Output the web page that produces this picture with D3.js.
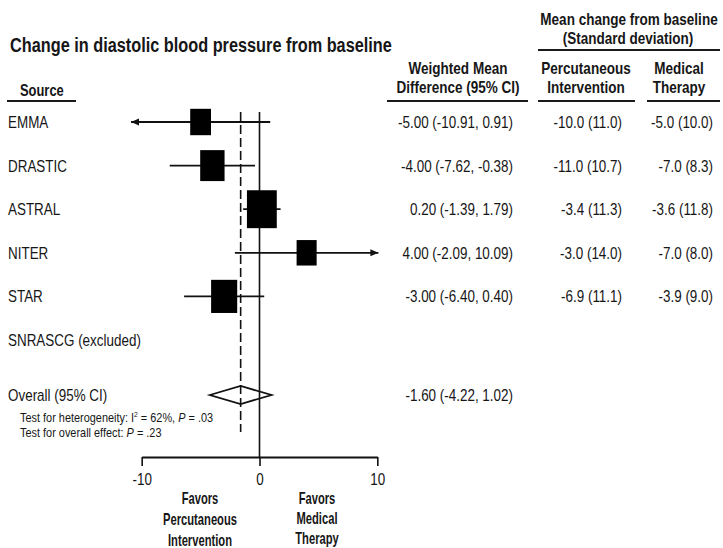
<!DOCTYPE html>
<html>
<head>
<meta charset="utf-8">
<script src="https://cdn.jsdelivr.net/npm/d3@7"></script>
<style>
  body { margin: 0; background: #fff; }
  svg { display: block; font-family: "Liberation Sans", Arial, Helvetica, sans-serif; }
  text { fill: #161616; }
</style>
</head>
<body>
<div id="chart"></div>
<script>
"use strict";

// study data
const sources = ["EMMA", "DRASTIC", "ASTRAL", "NITER", "STAR", "SNRASCG (excluded)"];
const wmd = [-5.00, -4.00, 0.20, 4.00, -3.00];
const ciLow = [-10.91, -7.62, -1.39, -2.09, -6.40];
const ciHigh = [0.91, -0.38, 1.79, 10.09, 0.40];
const weights = [14.4, 19.8, 29.7, 13.4, 22.7];

const pciMean = [-10.0, -11.0, -3.4, -3.0, -6.9];
const pciSD = [11.0, 10.7, 11.3, 14.0, 11.1];
const medMean = [-5.0, -7.0, -3.6, -7.0, -3.9];
const medSD = [10.0, 8.3, 11.8, 8.0, 9.0];

// overall: estimate, low, high
const overall = [-1.60, -4.22, 1.02];
const xTicks = [-10, 0, 10];

let width = 723;
let height = 548;

let svg = d3.select("#chart").append("svg")
  .attr("width", width)
  .attr("height", height)
  .attr("viewBox", [0, 0, width, height].join(" "));

let x = d3.scaleLinear()
  .domain([-10, 10])
  .range([141.7, 377.3]);

let y = d3.scalePoint()
  .domain(sources)
  .range([122, 340]);

let overallY = 395;
let axisY = 457;

let boxW = d3.scaleSqrt()
  .domain([0, 30])
  .range([0, 30]);
let boxAspect = 1.27;

// text helper, glyphs are narrow in the original
function label(g, px, py, str, o) {
  return g.append("text")
    .attr("transform", `translate(${px},${py}) scale(${o.sx},1)`)
    .attr("font-size", o.size)
    .attr("font-weight", o.weight || "normal")
    .attr("text-anchor", o.anchor || "start")
    .text(str);
}

let bold = { size: 16.5, weight: "bold", sx: 0.82, anchor: "middle" };
let body = { size: 16, sx: 0.84 };

// headers
label(svg, 10, 52, "Change in diastolic blood pressure from baseline", { size: 21, weight: "bold", sx: 0.776 });
label(svg, 20, 96, "Source", { size: 17, weight: "bold", sx: 0.76 });

label(svg, 629, 25, "Mean change from baseline", bold);
label(svg, 628, 44, "(Standard deviation)", bold);

label(svg, 458, 74, "Weighted Mean", bold);
label(svg, 458, 93, "Difference (95% CI)", bold);
label(svg, 586, 74, "Percutaneous", bold);
label(svg, 586, 93, "Intervention", bold);
label(svg, 679, 74, "Medical", bold);
label(svg, 679, 93, "Therapy", bold);

let rules = [
  [7, 76, 101], [387, 528, 101], [538, 635, 101], [647, 720, 101], [538, 720, 50]
];
svg.selectAll(".rule")
  .data(rules)
  .enter().append("line")
  .attr("class", "rule")
  .attr("x1", d => d[0])
  .attr("x2", d => d[1])
  .attr("y1", d => d[2])
  .attr("y2", d => d[2])
  .attr("stroke", "#1a1a1a")
  .attr("stroke-width", 2);

// row labels and table columns
sources.forEach(function(s, i) {
  let ty = y(s) + 6;
  label(svg, 8, ty, s, body);
  if (i < wmd.length) {
    label(svg, 513, ty, `${wmd[i].toFixed(2)} (${ciLow[i].toFixed(2)}, ${ciHigh[i].toFixed(2)})`, Object.assign({ anchor: "end" }, body));
    label(svg, 622, ty, `${pciMean[i].toFixed(1)} (${pciSD[i].toFixed(1)})`, Object.assign({ anchor: "end" }, body));
    label(svg, 713, ty, `${medMean[i].toFixed(1)} (${medSD[i].toFixed(1)})`, Object.assign({ anchor: "end" }, body));
  }
});

label(svg, 8, overallY + 6, "Overall (95% CI)", body);
label(svg, 513, overallY + 6, `${overall[0].toFixed(2)} (${overall[1].toFixed(2)}, ${overall[2].toFixed(2)})`, Object.assign({ anchor: "end" }, body));

// heterogeneity notes
let small = { size: 13, sx: 0.84 };
let het = label(svg, 20, 422, "", small);
het.append("tspan").text("Test for heterogeneity: I");
het.append("tspan").attr("font-size", 8).attr("dy", -5).text("2");
het.append("tspan").attr("dy", 5).text(" = 62%, ");
het.append("tspan").attr("font-style", "italic").text("P");
het.append("tspan").text(" = .03");

let eff = label(svg, 20, 437, "", small);
eff.append("tspan").text("Test for overall effect: ");
eff.append("tspan").attr("font-style", "italic").text("P");
eff.append("tspan").text(" = .23");

// reference lines
svg.append("line")
  .attr("x1", x(0)).attr("x2", x(0))
  .attr("y1", 112).attr("y2", axisY)
  .attr("stroke", "#111")
  .attr("stroke-width", 1.6);

svg.append("line")
  .attr("x1", x(overall[0])).attr("x2", x(overall[0]))
  .attr("y1", 112).attr("y2", 432)
  .attr("stroke", "#111")
  .attr("stroke-width", 1.6)
  .attr("stroke-dasharray", "9,4");

// confidence intervals
let studies = wmd.map((d, i) => ({ name: sources[i], est: d, lo: ciLow[i], hi: ciHigh[i], w: weights[i] }));

let rows = svg.selectAll(".study")
  .data(studies)
  .enter().append("g")
  .attr("class", "study");

rows.append("line")
  .attr("x1", d => x(d.lo))
  .attr("x2", d => x(d.hi))
  .attr("y1", d => y(d.name))
  .attr("y2", d => y(d.name))
  .attr("stroke", "#111")
  .attr("stroke-width", 1.8);

// arrows where the CI runs past the axis
let [dMin, dMax] = x.domain();
rows.filter(d => d.lo < dMin).append("path")
  .attr("d", d => `M${x(d.lo)},${y(d.name)} l8,-3.5 v7 z`)
  .attr("fill", "#111");
rows.filter(d => d.hi > dMax).append("path")
  .attr("d", d => `M${x(d.hi)},${y(d.name)} l-8,-3.5 v7 z`)
  .attr("fill", "#111");

rows.append("rect")
  .attr("x", d => x(d.est) - boxW(d.w) / 2)
  .attr("y", d => y(d.name) - boxW(d.w) * boxAspect / 2)
  .attr("width", d => boxW(d.w))
  .attr("height", d => boxW(d.w) * boxAspect)
  .attr("fill", "#000");

// overall diamond
let dh = 9;
svg.append("path")
  .attr("d", `M${x(overall[1])},${overallY} L${x(overall[0])},${overallY - dh} L${x(overall[2])},${overallY} L${x(overall[0])},${overallY + dh} Z`)
  .attr("fill", "none")
  .attr("stroke", "#111")
  .attr("stroke-width", 1.8);

// axis
let axis = svg.append("g")
  .attr("transform", `translate(0,${axisY})`)
  .call(d3.axisBottom(x)
    .tickValues(xTicks)
    .tickFormat(d => String(d))
    .tickSize(9)
    .tickSizeOuter(0)
    .tickPadding(7.6));

axis.select(".domain")
  .attr("stroke", "#111")
  .attr("stroke-width", 2);
axis.selectAll(".tick line")
  .attr("stroke", "#111")
  .attr("stroke-width", 1.6);
axis.selectAll(".tick text")
  .attr("font-size", 16)
  .attr("font-family", null)
  .attr("fill", "#161616")
  .attr("transform", "scale(0.84,1)");

// favors labels
let fav = { size: 16, weight: "bold", sx: 0.7, anchor: "middle" };
["Favors", "Percutaneous", "Intervention"].forEach((t, i) => label(svg, 200, 504 + i * 21, t, fav));
["Favors", "Medical", "Therapy"].forEach((t, i) => label(svg, 317, 504 + i * 20, t, fav));
</script>
</body>
</html>
